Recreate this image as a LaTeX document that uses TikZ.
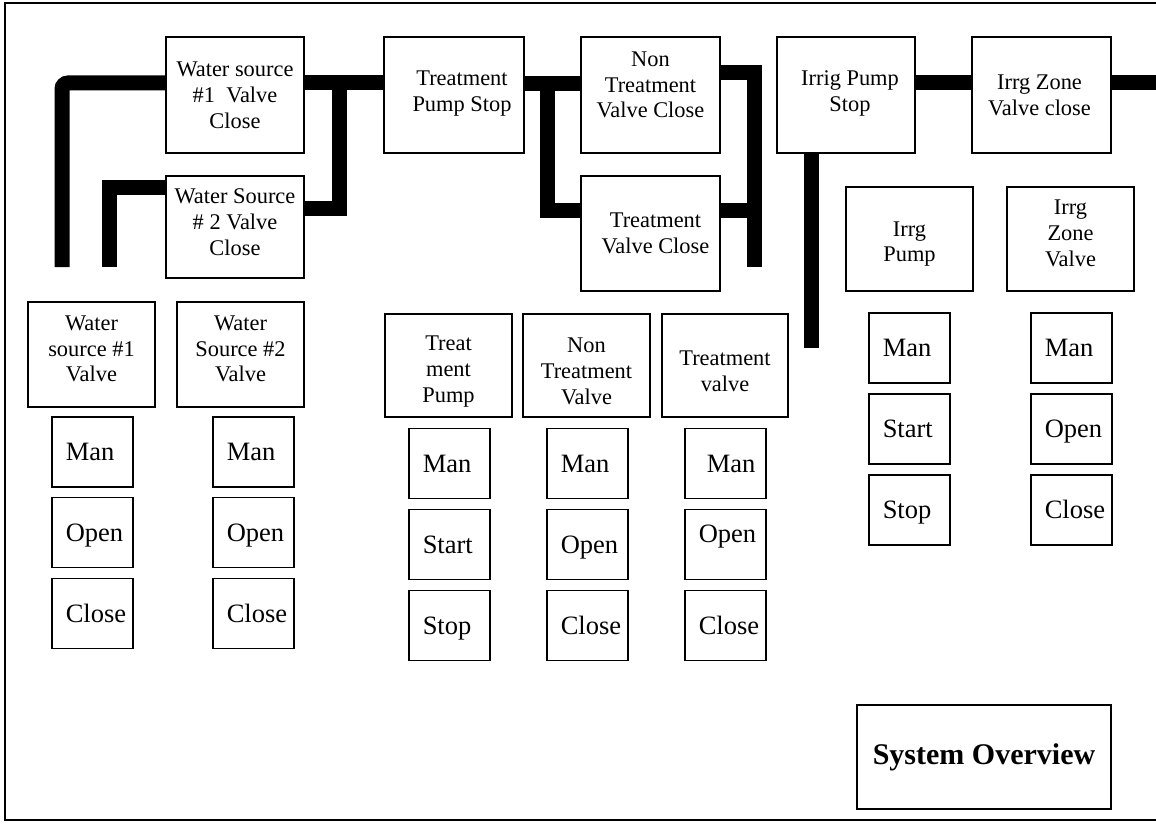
\documentclass[tikz,border=0pt]{standalone}
\usepackage{fontspec}
\setmainfont{Liberation Serif}
% left-aligned button caption in a fixed-width slot
\newcommand\btnlabel[1]{\makebox[53pt][l]{#1}}
\begin{document}
\begin{tikzpicture}[x=1pt,y=-1pt,
  panel/.style={draw, line width=1.5pt, inner sep=0pt},
  ptext/.style={align=center, inner sep=0pt,
    font=\fontsize{22.4}{25.8}\selectfont},
  btn/.style={draw, line width=1.5pt, anchor=west,
    inner xsep=14pt, inner ysep=0pt, minimum width=81pt,
    minimum height=70pt, text height=17.5pt, text depth=0pt,
    font=\fontsize{26.5}{30}\selectfont},
  pipe/.style={line width=15pt, line cap=butt, line join=miter},
  frame/.style={line width=2pt}]

\clip (0,0) rectangle (1156,824);
\fill[white] (0,0) rectangle (1156,824);
\draw[frame] (5,3) rectangle (1170,820);

% --- shutdown sequence panels ---
\node[panel, minimum width=138pt, minimum height=116pt] (ws1c) at (235,95) {};
\node[panel, minimum width=138pt, minimum height=102pt] (ws2c) at (235,227) {};
\node[panel, minimum width=140pt, minimum height=116pt] (tps) at (454,95) {};
\node[panel, minimum width=139pt, minimum height=116pt] (ntvc) at (650.5,95) {};
\node[panel, minimum width=139pt, minimum height=115pt] (tvc) at (650.5,233.5) {};
\node[panel, minimum width=138pt, minimum height=116pt] (ips) at (846,95) {};
\node[panel, minimum width=139pt, minimum height=116pt] (izvc) at (1041.5,95) {};

\node[ptext] (ws1ct) at (ws1c.center) {Water source\\\#1~ Valve\\Close};
\node[ptext] (ws2ct) at ([yshift=5pt]ws2c.center) {Water Source\\\# 2 Valve\\Close};
\node[ptext] (tpst) at ([xshift=8pt,yshift=1.5pt]tps.center) {Treatment\\Pump Stop};
\node[ptext] (ntvct) at ([yshift=10pt]ntvc.center) {Non\\Treatment\\Valve Close};
\node[ptext] (tvct) at ([xshift=5pt]tvc.center) {Treatment\\Valve Close};
\node[ptext] (ipst) at ([xshift=4pt,yshift=1.5pt]ips.center) {Irrig Pump\\Stop};
\node[ptext] (izvct) at ([xshift=-2pt]izvc.center) {Irrg Zone\\Valve close};

% --- device panels ---
\node[panel, minimum width=127pt, minimum height=104pt] (ipump) at (909.5,239) {};
\node[panel, minimum width=127pt, minimum height=104pt] (izv) at (1070.5,239) {};
\node[panel, minimum width=127pt, minimum height=105pt] (ws1v) at (91.5,354.5) {};
\node[panel, minimum width=127pt, minimum height=105pt] (ws2v) at (240.5,354.5) {};
\node[panel, minimum width=127pt, minimum height=103pt] (tpump) at (448.5,365.5) {};
\node[panel, minimum width=127pt, minimum height=103pt] (ntv) at (586.5,365.5) {};
\node[panel, minimum width=126pt, minimum height=103pt] (tv) at (725,365.5) {};

\node[ptext] (ipumpt) at ([yshift=-5pt]ipump.center) {Irrg\\Pump};
\node[ptext] (izvt) at ([yshift=5.5pt]izv.center) {Irrg\\Zone\\Valve};
\node[ptext] (ws1vt) at ([yshift=5.5pt]ws1v.center) {Water\\source \#1\\Valve};
\node[ptext] (ws2vt) at ([yshift=5.5pt]ws2v.center) {Water\\Source \#2\\Valve};
\node[ptext] (tpumpt) at ([yshift=-6pt]tpump.center) {Treat\\ment\\Pump};
\node[ptext] (ntvt) at ([yshift=-6pt]ntv.center) {Non\\Treatment\\Valve};
\node[ptext] (tvt) at ([yshift=-5.5pt]tv.center) {Treatment\\valve};

% --- control buttons ---
\node[btn] (ws1man) at (51,452) {\btnlabel{Man}};
\node[btn] (ws1open) at (51,532.5) {\btnlabel{Open}};
\node[btn] (ws1close) at (51,613.5) {\btnlabel{Close}};
\node[btn] (ws2man) at (212,452) {\btnlabel{Man}};
\node[btn] (ws2open) at (212,532.5) {\btnlabel{Open}};
\node[btn] (ws2close) at (212,613.5) {\btnlabel{Close}};

\node[btn] (tpman) at (408,463.5) {\btnlabel{Man}};
\node[btn] (tpstart) at (408,544.5) {\btnlabel{Start}};
\node[btn] (tpstop) at (408,625.5) {\btnlabel{Stop}};
\node[btn] (ntvman) at (546,463.5) {\btnlabel{Man}};
\node[btn] (ntvopen) at (546,544.5) {\btnlabel{Open}};
\node[btn] (ntvclose) at (546,625.5) {\btnlabel{Close}};
\node[btn] (tvman) at (684,463.5) {\btnlabel{\hspace*{8pt}Man}};
\node[btn] (tvopen) at (684,544.5) {\btnlabel{\raisebox{11pt}{Open}}};
\node[btn] (tvclose) at (684,625.5) {\btnlabel{Close}};

\node[btn] (ipman) at (868,348) {\btnlabel{Man}};
\node[btn] (ipstart) at (868,429) {\btnlabel{Start}};
\node[btn] (ipstop) at (868,510) {\btnlabel{Stop}};
\node[btn] (izman) at (1030,348) {\btnlabel{Man}};
\node[btn] (izopen) at (1030,429) {\btnlabel{Open}};
\node[btn] (izclose) at (1030,510) {\btnlabel{Close}};

\node[draw, line width=1.5pt, minimum width=254pt, minimum height=104pt,
  font=\fontsize{30}{34}\selectfont\bfseries] (overview) at (984,757) {System Overview};

% --- pipe run ends ---
\coordinate (s1) at (62,267);
\coordinate (s2) at (109,267);
\coordinate (m1) at (339,83);
\coordinate (m2) at (547,84);
\coordinate (r1) at (754,267);
\coordinate (e1) at (1170,83);
\coordinate (d1) at (811,348);

% --- pipes ---
\draw[pipe, rounded corners=6pt] (s1) |- ([yshift=12pt]ws1c.west);
\draw[pipe] ([yshift=12pt]ws1c.east) -- ([yshift=12pt]tps.west);
\draw[pipe] (s2) |- ([yshift=40pt]ws2c.west);
\draw[pipe] ([yshift=19pt]ws2c.east) -| (m1);
\draw[pipe] ([yshift=11pt]tps.east) -- ([yshift=11pt]ntvc.west);
\draw[pipe] (m2) |- ([yshift=23.5pt]tvc.west);
\draw[pipe] ([yshift=22.5pt]ntvc.east) -| (r1);
\draw[pipe] ([yshift=23.5pt]tvc.east) -- ([yshift=23.5pt]tvc.east -| r1);
\draw[pipe] ([yshift=12pt]ips.east) -- ([yshift=12pt]izvc.west);
\draw[pipe] ([yshift=12pt]izvc.east) -- (e1);
\draw[pipe] ([xshift=-35pt]ips.south) -- (d1);
\end{tikzpicture}
\end{document}
